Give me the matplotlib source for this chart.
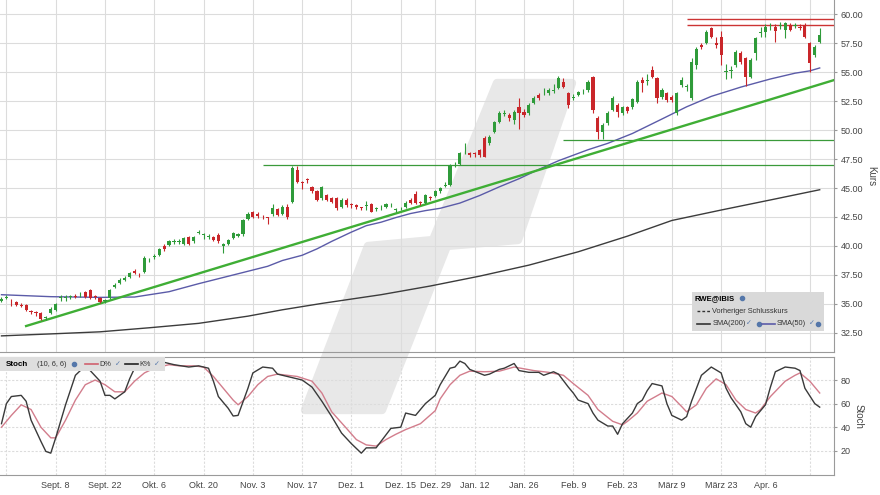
import matplotlib.pyplot as plt
import numpy as np
import pandas as pd
from matplotlib.patches import Polygon, Rectangle

plt.rcParams['font.family'] = ['Liberation Sans', 'DejaVu Sans']

# trading days (Xetra/IBIS), Aug 22 2025 - Apr 22 2026
holidays = ["2025-12-24", "2025-12-25", "2025-12-26", "2025-12-31",
            "2026-01-01", "2026-04-03", "2026-04-06"]
days = pd.bdate_range("2025-08-22", "2026-04-22")
days = days[~days.isin(pd.to_datetime(holidays))]

opens = [35.3, 35.5, 35.15, 35.2, 34.95, 34.9, 34.35, 34.25, 34.2, 33.75,
         34.2, 34.5, 35.55, 35.55, 35.6, 35.7, 35.75, 36.0, 36.2, 35.6,
         35.55, 35.25, 35.5, 36.5, 36.8, 37.1, 37.3, 37.85, 37.55, 37.8,
         38.75, 39.05, 39.2, 40.0, 40.1, 40.35, 40.35, 40.2, 40.75, 40.4,
         41.1, 40.95, 40.8, 40.8, 40.95, 40.0, 40.2, 40.7, 40.9, 41.0,
         42.3, 42.9, 42.75, 42.55, 42.45, 42.8, 43.2, 42.8, 43.4, 43.8,
         46.55, 45.45, 45.7, 45.1, 44.7, 44.1, 44.4, 44.1, 44.1, 43.4,
         44.0, 43.55, 43.5, 43.3, 43.45, 43.6, 43.2, 43.25, 43.4, 43.5,
         43.1, 43.25, 43.4, 44.0, 44.5, 43.75, 43.7, 44.15, 44.3, 44.7,
         45.2, 45.3, 46.95, 47.1, 48.25, 48.0, 47.95, 48.3, 49.3, 48.85,
         49.86, 50.72, 51.4, 51.3, 50.86, 52.0, 51.58, 51.44, 52.3, 53.0,
         53.25, 53.16, 53.4, 53.6, 54.17, 53.16, 52.8, 53.02, 53.25, 53.45,
         54.6, 51.0, 49.86, 50.57, 51.72, 52.15, 51.44, 51.95, 51.95, 52.44,
         54.31, 54.25, 55.17, 54.45, 52.87, 53.16, 52.87, 51.44, 53.88, 53.75,
         52.73, 55.6, 57.33, 57.53, 58.76, 57.5, 58.05, 55.0, 55.1, 55.6,
         56.61, 56.18, 54.6, 56.61, 58.4, 58.48, 58.85, 58.9, 59.0, 58.62,
         59.05, 59.0, 58.91, 59.05, 57.47, 56.47, 57.61]
highs = [35.6, 35.8, 35.4, 35.3, 35.1, 35.0, 34.5, 34.4, 34.3, 34.0,
         34.7, 35.1, 35.8, 35.8, 35.8, 35.9, 36.0, 36.1, 36.3, 35.8,
         35.6, 35.4, 36.3, 36.8, 37.2, 37.4, 37.8, 38.0, 37.7, 39.1,
         39.0, 39.3, 39.8, 40.2, 40.5, 40.6, 40.6, 40.8, 40.9, 40.9,
         41.4, 41.1, 41.0, 40.9, 41.1, 40.3, 40.6, 41.2, 41.1, 42.3,
         42.9, 43.0, 42.9, 42.7, 42.5, 43.6, 43.3, 43.5, 43.6, 46.9,
         46.9, 45.6, 45.9, 45.2, 44.8, 45.2, 44.5, 44.2, 44.2, 44.1,
         44.1, 43.7, 43.6, 43.4, 43.9, 43.7, 43.4, 43.5, 43.7, 43.7,
         43.3, 43.4, 43.9, 44.1, 44.7, 43.9, 44.5, 44.3, 44.8, 45.1,
         45.5, 47.1, 47.2, 48.1, 48.9, 48.1, 48.1, 48.4, 49.5, 49.6,
         50.8, 51.6, 51.7, 51.5, 51.7, 52.8, 51.8, 52.3, 52.9, 53.2,
         53.6, 53.6, 54.0, 54.7, 54.5, 53.3, 53.1, 53.4, 53.5, 54.3,
         54.7, 51.2, 50.6, 51.6, 52.9, 52.3, 52.1, 52.1, 52.8, 54.3,
         54.6, 54.8, 55.5, 54.6, 53.6, 53.3, 53.0, 53.3, 54.6, 54.0,
         56.2, 57.2, 57.5, 58.6, 58.9, 58.0, 58.5, 55.7, 55.5, 56.9,
         56.8, 56.3, 56.2, 58.0, 58.9, 59.1, 59.2, 59.1, 59.3, 59.3,
         59.2, 59.2, 59.1, 59.2, 57.6, 57.3, 58.8]
lows = [35.2, 35.4, 34.8, 34.8, 34.7, 34.4, 34.1, 34.0, 33.6, 33.6,
        34.1, 34.4, 35.3, 35.3, 35.4, 35.5, 35.6, 35.5, 35.4, 35.4,
        35.1, 35.1, 35.4, 36.4, 36.7, 37.0, 37.2, 37.6, 37.3, 37.7,
        38.6, 38.9, 39.1, 39.6, 40.0, 40.2, 40.2, 40.1, 40.1, 40.3,
        41.0, 40.6, 40.6, 40.4, 40.3, 39.4, 40.1, 40.6, 40.8, 40.9,
        42.2, 42.4, 42.4, 42.3, 41.9, 42.6, 42.6, 42.7, 42.3, 43.7,
        45.4, 44.9, 45.4, 44.6, 43.9, 44.0, 43.9, 43.7, 43.1, 43.3,
        43.4, 43.3, 43.2, 43.1, 43.1, 42.9, 43.0, 43.1, 43.3, 43.4,
        42.9, 43.1, 43.3, 43.6, 43.6, 43.5, 43.6, 44.0, 44.2, 44.6,
        45.1, 45.2, 46.8, 47.0, 47.9, 47.7, 47.7, 47.7, 47.7, 48.7,
        49.7, 50.6, 51.2, 50.8, 50.5, 50.1, 51.1, 51.3, 52.2, 52.6,
        53.0, 53.0, 53.2, 53.5, 53.6, 51.9, 52.6, 52.9, 53.1, 53.3,
        51.5, 49.2, 49.2, 50.4, 51.6, 51.1, 51.3, 51.5, 51.8, 52.3,
        53.3, 53.9, 54.5, 52.3, 52.7, 52.4, 52.4, 51.3, 53.7, 53.4,
        52.6, 55.3, 57.0, 57.4, 57.9, 57.1, 55.6, 54.4, 54.5, 55.4,
        55.7, 53.8, 54.5, 56.0, 58.0, 58.0, 58.6, 57.6, 58.7, 57.9,
        58.5, 58.8, 58.6, 57.9, 55.0, 56.3, 57.5]
closes = [35.4, 35.6, 35.1, 34.9, 34.8, 34.5, 34.3, 34.2, 33.7, 33.9,
          34.6, 35.0, 35.6, 35.6, 35.65, 35.6, 35.8, 35.6, 35.5, 35.55,
          35.2, 35.3, 36.2, 36.6, 37.1, 37.2, 37.7, 37.65, 37.5, 39.0,
          38.8, 39.1, 39.7, 39.7, 40.4, 40.4, 40.4, 40.7, 40.2, 40.8,
          41.2, 40.95, 40.85, 40.5, 40.4, 40.2, 40.5, 41.1, 41.0, 42.25,
          42.8, 42.5, 42.6, 42.5, 42.4, 43.25, 42.7, 43.4, 42.5, 46.7,
          45.55, 45.4, 45.65, 44.7, 44.0, 45.1, 44.0, 43.8, 43.25, 44.0,
          43.5, 43.5, 43.4, 43.25, 43.5, 42.97, 43.2, 43.3, 43.6, 43.5,
          43.15, 43.3, 43.7, 43.7, 43.7, 43.7, 44.4, 44.1, 44.7, 45.0,
          45.3, 47.0, 47.0, 48.0, 48.3, 47.85, 47.9, 47.85, 47.7, 49.43,
          50.72, 51.44, 51.45, 51.0, 51.58, 51.44, 51.3, 52.15, 52.73, 52.73,
          53.3, 53.45, 53.45, 54.45, 53.74, 52.15, 52.87, 53.3, 53.3, 54.17,
          51.72, 49.86, 50.43, 51.44, 52.73, 51.58, 52.0, 51.66, 52.64, 54.17,
          54.02, 54.31, 54.6, 52.73, 53.45, 52.58, 52.58, 53.16, 54.31, 53.79,
          55.89, 56.95, 57.18, 58.48, 58.05, 57.35, 56.47, 55.03, 55.17, 56.75,
          55.89, 54.6, 56.04, 57.9, 58.48, 58.91, 58.91, 58.5, 59.05, 59.2,
          58.62, 59.05, 58.76, 58.05, 55.75, 57.18, 58.19]

# moving averages, read at trading-day positions
sma50_idx = [0, 10, 20, 27, 34, 40, 47, 54, 57, 61, 64, 67, 71, 74, 77, 80,
             83, 86, 89, 93, 97, 101, 105, 109, 113, 119, 123, 128, 134, 139,
             144, 150, 156, 161, 164, 166]
sma50 = [35.8, 35.63, 35.57, 35.6, 36.06, 36.75, 37.5, 38.25, 38.75, 39.2,
         39.75, 40.4, 41.2, 41.75, 42.05, 42.45, 42.8, 43.05, 43.25, 43.7,
         44.35, 45.1, 45.8, 46.6, 47.35, 48.3, 48.85, 49.7, 50.95, 52.0,
         52.9, 53.7, 54.4, 54.9, 55.1, 55.35]
sma200_idx = [0, 10, 20, 30, 40, 50, 57, 65, 77, 87, 97, 107, 117, 127, 136,
              146, 156, 166]
sma200 = [32.25, 32.42, 32.6, 32.95, 33.33, 33.95, 34.5, 35.05, 35.8, 36.55,
          37.4, 38.35, 39.5, 40.85, 42.2, 43.1, 43.97, 44.85]

# stochastics (10, 6, 6)
k_idx = [0, 1, 2, 4, 5, 6, 8, 9, 10, 11, 13, 15, 17, 18, 20, 21, 22, 23, 25,
         26, 27, 29, 31, 33, 35, 38, 40, 42, 43, 44, 46, 47, 48, 50, 51, 53,
         55, 56, 57, 58, 60, 61, 63, 65, 67, 69, 71, 73, 74, 76, 77, 79, 81,
         82, 84, 86, 88, 89, 91, 92, 93, 94, 95, 98, 99, 101, 102, 104, 105,
         107, 109, 110, 112, 113, 115, 116, 117, 119, 120, 121, 123, 124, 125,
         126, 128, 129, 130, 131, 132, 134, 135, 136, 138, 139, 140, 142, 144,
         146, 147, 148, 150, 151, 152, 153, 155, 156, 157, 159, 161, 162, 163,
         165, 166]
k_val = [43, 60, 66, 67, 62, 46, 28, 19.5, 18, 31, 59, 84, 92, 88, 79, 67, 67,
         64, 70, 81, 90, 94, 94, 95, 93, 91, 92, 90, 79, 66, 56, 49.5, 50, 73,
         86, 91, 90, 85, 84, 83, 81, 80, 74, 62, 49, 35, 26, 18, 22.5, 22.5,
         28, 39, 40, 52, 50, 60, 67, 76, 90, 91, 96, 94, 89, 84, 85, 89, 90,
         94, 88, 86.5, 86.5, 84, 87, 85, 74, 69, 63, 60, 52, 46, 41, 41, 34,
         43, 52, 60, 63, 71, 77, 75, 60, 50, 46, 49, 62, 84, 91, 86, 73, 65,
         53, 43, 40, 49, 59, 74, 87, 91, 90, 88, 73, 60, 57]
d_idx = [0, 2, 4, 6, 8, 10, 11, 13, 15, 17, 19, 21, 23, 25, 27, 29, 31, 34,
         36, 39, 41, 43, 45, 47, 48, 50, 52, 54, 56, 58, 60, 63, 65, 67, 70,
         72, 74, 76, 78, 80, 82, 85, 88, 89, 91, 93, 95, 98, 101, 104, 108,
         111, 114, 116, 119, 121, 124, 126, 127, 129, 131, 134, 136, 138, 139,
         141, 143, 145, 147, 149, 151, 153, 154, 156, 159, 161, 162, 164, 166]
d_val = [40, 50, 59, 55, 40, 31, 31, 46, 63, 76, 80, 76, 70, 70, 79, 86, 90,
         93, 92, 92, 91, 83, 73, 63, 59, 66, 76, 83, 85, 84, 83, 79, 69, 53,
         39, 29.5, 25, 24, 29.5, 34, 38, 43, 54, 64, 76, 84, 87.5, 87, 87.5,
         91, 88, 86.5, 84, 77, 67, 55, 45, 42, 45, 52, 62, 69, 66, 57.5, 53,
         59, 73, 81, 76, 63, 55, 52, 55, 66, 79, 84, 86, 79, 69]

# drawn levels / trend line
res_levels = [59.57, 59.05]
res_start = "2026-03-12"
sup_levels = [47.0, 49.15]
sup_start = ["2025-11-05", "2026-02-05"]
trend_dates = ["2025-08-29", "2026-04-22"]
trend_vals = [33.1, 53.93]

grid_dates = pd.date_range("2025-08-25", "2026-04-20", freq="14D")
tick_labels = ["", "Sept. 8", "Sept. 22", "Okt. 6", "Okt. 20", "Nov. 3",
               "Nov. 17", "Dez. 1", "Dez. 15", "Dez. 29", "Jan. 12",
               "Jan. 26", "Feb. 9", "Feb. 23", "März 9", "März 23",
               "Apr. 6", ""]

idx = np.arange(len(days))
ticks = days.searchsorted(grid_dates)
xmin, xmax = -0.3, 168.9

fig = plt.figure(figsize=(8.8, 4.95), dpi=100)
fig.patch.set_facecolor("white")
ax = fig.add_axes([0, 1 - 352 / 495, 834 / 880, 352 / 495])
ax2 = fig.add_axes([0, 1 - 475 / 495, 834 / 880, 118 / 495])

# watermark logo behind both panels
logo = [(497, 83), (572, 83), (518, 240), (447, 246), (382, 410),
        (305, 410), (368, 246), (433, 240)]
fig.patches.append(Polygon([(x / 880, 1 - y / 495) for x, y in logo],
                           closed=True, transform=fig.transFigure,
                           facecolor="#e8e8e8", edgecolor="#e8e8e8",
                           linewidth=6, joinstyle="round", zorder=-1))

gridc = "#dcdcdc"
for a in (ax, ax2):
    a.set_facecolor("none")
    a.set_xlim(xmin, xmax)
    a.spines["left"].set_visible(False)
    for s in ("right", "bottom", "top"):
        a.spines[s].set_color("#9a9a9a")
        a.spines[s].set_linewidth(0.8)
    a.yaxis.tick_right()
    a.yaxis.set_label_position("right")
    a.tick_params(axis="y", labelsize=6.5, labelcolor="#444444", length=2,
                  color="#9a9a9a", pad=3)
    a.set_xticks(ticks)
ax.spines["top"].set_visible(False)

# main panel
ax.set_ylim(30.86, 61.21)
ax.set_yticks(np.arange(32.5, 60.01, 2.5))
ax.set_yticklabels([f"{v:.2f}" for v in np.arange(32.5, 60.01, 2.5)])
ax.grid(True, color=gridc, linewidth=0.8)
ax.tick_params(axis="x", length=0, labelbottom=False)
ax.set_ylabel("Kurs", rotation=270, fontsize=7, color="#444444", labelpad=9)

ax.plot(sma200_idx, sma200, color="#3c3c3c", linewidth=1.0, zorder=2)
ax.plot(sma50_idx, sma50, color="#5b5ba8", linewidth=1.0, zorder=2)

t0 = days.searchsorted(pd.Timestamp(trend_dates[0]))
t1 = days.searchsorted(pd.Timestamp(trend_dates[1]))
slope = (trend_vals[1] - trend_vals[0]) / (t1 - t0)
ax.plot([t0, xmax], [trend_vals[0], trend_vals[0] + slope * (xmax - t0)],
        color="#3fae35", linewidth=1.7, zorder=3)
for lvl, start in zip(sup_levels, sup_start):
    ax.hlines(lvl, days.searchsorted(pd.Timestamp(start)), xmax,
              color="#3a9a3a", linewidth=0.9, zorder=2)
for lvl in res_levels:
    ax.hlines(lvl, days.searchsorted(pd.Timestamp(res_start)), xmax,
              color="#cc3333", linewidth=1.0, zorder=2)

o = np.array(opens)
c = np.array(closes)
up = c >= o
cols = np.where(up, "#2f9b3a", "#c9262a")
ax.vlines(idx, lows, highs, colors=cols, linewidth=0.8, zorder=4)
body = np.where(np.abs(c - o) < 0.06, 0.06, c - o)
ax.bar(idx, body, bottom=o, width=0.64, color=cols, linewidth=0, zorder=5)

# legend box (main)
ax.add_patch(Rectangle((0.830, 0.060), 0.158, 0.110, transform=ax.transAxes,
                       facecolor="#d9d9d9", edgecolor="none", zorder=6))
ax.text(0.833, 0.153, "RWE@IBIS", transform=ax.transAxes, fontsize=5.5,
        fontweight="bold", va="center", zorder=7)
ax.plot([0.890], [0.153], "o", transform=ax.transAxes, ms=3,
        color="#5577aa", zorder=7)
ax.plot([0.836, 0.851], [0.116, 0.116], transform=ax.transAxes,
        color="#333333", linewidth=1.0, linestyle=(0, (2, 1.5)), zorder=7)
ax.text(0.854, 0.116, "Vorheriger Schlusskurs", transform=ax.transAxes,
        fontsize=5.3, color="#333333", va="center", zorder=7)
ax.plot([0.836, 0.851], [0.080, 0.080], transform=ax.transAxes,
        color="#333333", linewidth=1.2, zorder=7)
ax.text(0.854, 0.080, "SMA(200)", transform=ax.transAxes, fontsize=5.3,
        color="#333333", va="center", zorder=7)
ax.text(0.895, 0.080, "✓", transform=ax.transAxes, fontsize=5,
        color="#5577aa", va="center", zorder=7)
ax.plot([0.910], [0.080], "o", transform=ax.transAxes, ms=3,
        color="#5577aa", zorder=7)
ax.plot([0.914, 0.929], [0.080, 0.080], transform=ax.transAxes,
        color="#5b5ba8", linewidth=1.2, zorder=7)
ax.text(0.931, 0.080, "SMA(50)", transform=ax.transAxes, fontsize=5.3,
        color="#333333", va="center", zorder=7)
ax.text(0.970, 0.080, "✓", transform=ax.transAxes, fontsize=5,
        color="#5577aa", va="center", zorder=7)
ax.plot([0.981], [0.080], "o", transform=ax.transAxes, ms=3,
        color="#5577aa", zorder=7)

# stochastic panel
ax2.set_ylim(-0.5, 99.5)
ax2.set_yticks([20, 40, 60, 80])
ax2.grid(True, color=gridc, linewidth=0.8, linestyle=(0, (2, 1.5)))
ax2.set_xticklabels(tick_labels, fontsize=6.5, color="#444444")
ax2.tick_params(axis="x", length=0, pad=4)
ax2.set_ylabel("Stoch", rotation=270, fontsize=7, color="#444444", labelpad=9)
ax2.plot(d_idx, d_val, color="#d27d8c", linewidth=1.0, zorder=3)
ax2.plot(k_idx, k_val, color="#3a3a3a", linewidth=1.0, zorder=4)

ax2.add_patch(Rectangle((0, 0.88), 0.198, 0.12, transform=ax2.transAxes,
                        facecolor="#dedede", edgecolor="none", zorder=6))
ax2.text(0.007, 0.94, "Stoch", transform=ax2.transAxes, fontsize=5.8,
         fontweight="bold", va="center", zorder=7)
ax2.text(0.044, 0.94, "(10, 6, 6)", transform=ax2.transAxes, fontsize=5.3,
         color="#333333", va="center", zorder=7)
ax2.plot([0.089], [0.94], "o", transform=ax2.transAxes, ms=3,
         color="#5577aa", zorder=7)
ax2.plot([0.102, 0.117], [0.94, 0.94], transform=ax2.transAxes,
         color="#d0606e", linewidth=1.2, zorder=7)
ax2.text(0.119, 0.94, "D%", transform=ax2.transAxes, fontsize=5.3,
         color="#333333", va="center", zorder=7)
ax2.text(0.138, 0.94, "✓", transform=ax2.transAxes, fontsize=5,
         color="#5577aa", va="center", zorder=7)
ax2.plot([0.150, 0.165], [0.94, 0.94], transform=ax2.transAxes,
         color="#222222", linewidth=1.2, zorder=7)
ax2.text(0.167, 0.94, "K%", transform=ax2.transAxes, fontsize=5.3,
         color="#333333", va="center", zorder=7)
ax2.text(0.185, 0.94, "✓", transform=ax2.transAxes, fontsize=5,
         color="#5577aa", va="center", zorder=7)

fig.savefig("out.png", dpi=100, facecolor="white")
